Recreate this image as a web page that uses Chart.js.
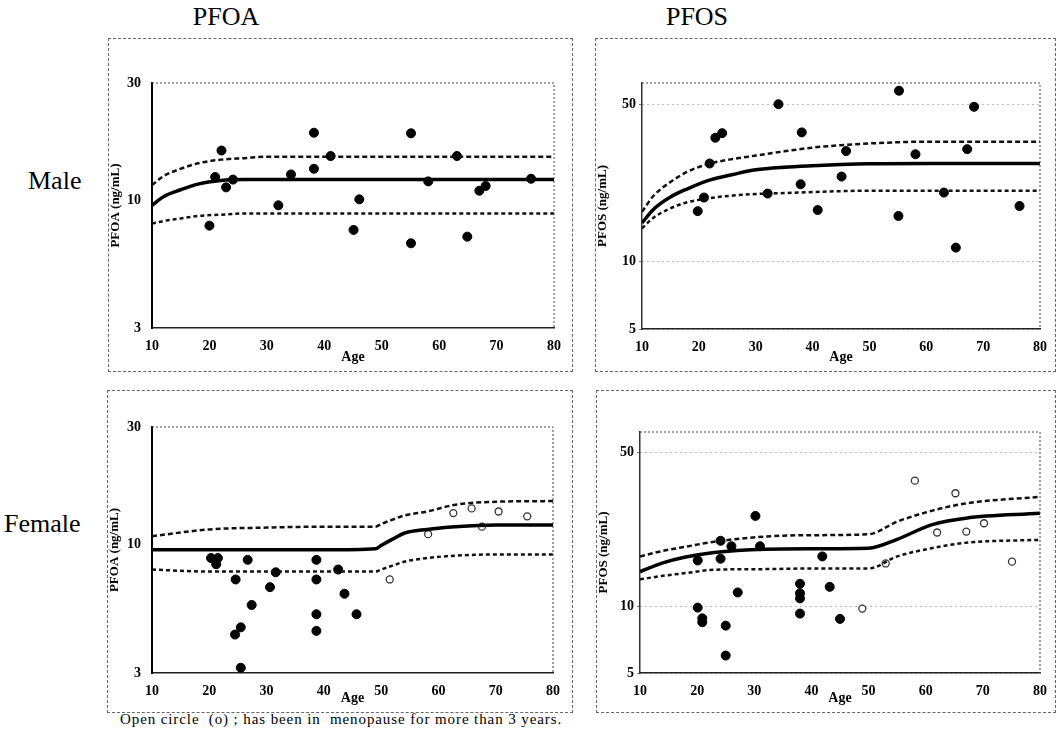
<!DOCTYPE html>
<html>
<head>
<meta charset="utf-8">
<script src="https://cdn.jsdelivr.net/npm/chart.js@4.4.0/dist/chart.umd.min.js"></script>
<style>
body { margin:0; background:#fff; width:1058px; height:738px; position:relative; overflow:hidden; font-family:"Liberation Serif", serif; color:#000; }
.frame { position:absolute; border:1px dashed #666; box-sizing:border-box; }
canvas { position:absolute; }
.lbl { position:absolute; white-space:nowrap; }
</style>
</head>
<body>
<div class="lbl" style="left:176px;top:2px;width:100px;text-align:center;font-size:26px;">PFOA</div>
<div class="lbl" style="left:647px;top:2px;width:100px;text-align:center;font-size:26px;">PFOS</div>
<div class="lbl" style="left:28px;top:166px;font-size:26px;">Male</div>
<div class="lbl" style="left:4px;top:509px;font-size:26px;">Female</div>
<div class="lbl" style="left:120px;top:711px;font-size:15px;letter-spacing:0.9px;">Open circle&nbsp; (o) ; has been in&nbsp; menopause for more than 3 years.</div>

<div class="frame" style="left:108px;top:38px;width:465px;height:334px;"></div>
<div class="frame" style="left:595px;top:38px;width:461px;height:334px;"></div>
<div class="frame" style="left:107px;top:390px;width:466px;height:323px;"></div>
<div class="frame" style="left:596px;top:390px;width:460px;height:323px;"></div>

<canvas id="pfoaMale" width="465" height="334" style="left:108px;top:38px;"></canvas>
<canvas id="pfosMale" width="461" height="334" style="left:595px;top:38px;"></canvas>
<canvas id="pfoaFemale" width="466" height="323" style="left:107px;top:390px;"></canvas>
<canvas id="pfosFemale" width="460" height="323" style="left:596px;top:390px;"></canvas>

<script>
// axis ticks
var ageTicks = [10, 20, 30, 40, 50, 60, 70, 80];
var pfoaTicks = [3, 10, 30];
var pfosTicks = [5, 10, 50];

// PFOA, male
var pfoaMaleAge = [20, 22.1, 21, 22.9, 24.1, 32, 34.2, 38.2, 38.2, 41.1, 45.1, 46.1, 55.1, 55.1, 58.1, 63.1, 64.9, 67, 68.1, 76];
var pfoaMaleVal = [7.85, 15.9, 12.4, 11.25, 12.1, 9.5, 12.7, 18.8, 13.4, 15.1, 7.54, 10.05, 18.7, 6.65, 11.9, 15.1, 7.08, 10.9, 11.4, 12.2];
var pfoaMaleFitAge = [10, 12, 15, 18, 22, 26, 30, 40, 50, 60, 70, 80];
var pfoaMaleFit = [9.5, 10.3, 11.0, 11.6, 12.0, 12.1, 12.1, 12.1, 12.1, 12.1, 12.1, 12.1];
var pfoaMaleUpper = [11.5, 12.5, 13.4, 14.1, 14.6, 14.8, 15.0, 15.0, 15.0, 15.0, 15.0, 15.0];
var pfoaMaleLower = [8.0, 8.2, 8.4, 8.6, 8.7, 8.8, 8.8, 8.8, 8.8, 8.8, 8.8, 8.8];

// PFOS, male
var pfosMaleAge = [19.8, 20.9, 21.9, 22.9, 24.1, 32.1, 34, 37.9, 38.1, 40.9, 45.1, 45.9, 55.2, 55.1, 58.1, 63.1, 65.2, 67.2, 68.4, 76.4];
var pfosMaleVal = [16.7, 19.2, 27.2, 35.4, 37.1, 20.0, 49.9, 22.0, 37.4, 16.9, 23.8, 30.9, 57.3, 15.9, 29.9, 20.2, 11.5, 31.5, 48.6, 17.6];
var pfosMaleFitAge = [10, 12, 15, 18, 22, 26, 30, 35, 40, 45, 50, 60, 80];
var pfosMaleFit = [14.8, 17.0, 19.3, 21.0, 23.0, 24.3, 25.5, 26.2, 26.6, 26.9, 27.1, 27.2, 27.2];
var pfosMaleUpper = [16.6, 19.5, 22.5, 25.0, 27.2, 28.5, 29.5, 30.8, 32.0, 32.8, 33.4, 34.0, 34.0];
var pfosMaleLower = [14.0, 15.6, 17.2, 18.3, 19.1, 19.6, 19.9, 20.1, 20.3, 20.5, 20.6, 20.6, 20.6];

// PFOA, female (filled = before menopause, open = in menopause > 3 years)
var pfoaFemaleAge = [20.3, 21.5, 21.2, 24.6, 25.5, 24.5, 25.5, 26.7, 27.4, 30.6, 31.6, 38.7, 38.7, 38.7, 38.7, 42.5, 43.6, 45.7];
var pfoaFemaleVal = [8.8, 8.8, 8.3, 7.2, 4.6, 4.3, 3.15, 8.65, 5.67, 6.7, 7.7, 8.65, 7.2, 5.2, 4.45, 7.9, 6.3, 5.2];
var pfoaFemaleOpenAge = [51.5, 58.2, 62.6, 65.8, 67.6, 70.5, 75.5];
var pfoaFemaleOpenVal = [7.2, 11.0, 13.4, 14.0, 11.8, 13.6, 13.0];
var pfoaFemaleFitAge = [10, 20, 30, 40, 49, 50, 52, 54, 58, 63, 70, 80];
var pfoaFemaleFit = [9.5, 9.5, 9.5, 9.5, 9.6, 9.9, 10.5, 11.1, 11.5, 11.8, 12.0, 12.0];
var pfoaFemaleUpper = [10.8, 11.5, 11.7, 11.8, 11.8, 12.1, 12.6, 13.1, 13.6, 14.5, 14.9, 15.0];
var pfoaFemaleLower = [7.9, 7.75, 7.75, 7.75, 7.75, 7.9, 8.2, 8.5, 8.8, 9.0, 9.1, 9.1];

// PFOS, female
var pfosFemaleAge = [20.1, 20.1, 20.9, 20.9, 24.1, 24.1, 25, 25, 26, 27.1, 30.2, 31, 38, 38, 38, 38, 41.9, 43.2, 45];
var pfosFemaleVal = [16.2, 9.9, 8.85, 8.5, 19.9, 16.5, 8.2, 6.0, 18.8, 11.6, 25.8, 18.8, 12.7, 11.5, 10.9, 9.3, 16.9, 12.3, 8.8];
var pfosFemaleOpenAge = [48.9, 53, 58.1, 62, 65.2, 67.1, 70.2, 75.1];
var pfosFemaleOpenVal = [9.8, 15.7, 37.3, 21.7, 32.7, 21.9, 23.9, 16.0];
var pfosFemaleFitAge = [10, 14, 18, 23, 32, 40, 50, 55, 61, 67, 80];
var pfosFemaleFit = [14.4, 15.8, 16.8, 17.6, 18.2, 18.3, 18.4, 20.2, 23.5, 25.2, 26.5];
var pfosFemaleUpper = [16.9, 17.9, 18.7, 19.7, 20.8, 21.1, 21.3, 24.3, 27.2, 29.4, 31.5];
var pfosFemaleLower = [13.3, 13.8, 14.2, 14.7, 14.8, 14.9, 14.9, 16.9, 18.4, 19.5, 20.1];

function pairs(xs, ys) {
    return xs.map(function (x, i) { return { x: x, y: ys[i] }; });
}

// dotted top and right edge of the plot area
var frameLines = {
    id: 'frameLines',
    afterDraw: function (chart) {
        var a = chart.chartArea, c = chart.ctx;
        c.save();
        c.strokeStyle = '#444';
        c.lineWidth = 1;
        c.setLineDash([2, 2]);
        c.beginPath();
        c.moveTo(a.left, a.top);
        c.lineTo(a.right, a.top);
        c.lineTo(a.right, a.bottom);
        c.stroke();
        c.restore();
    }
};

function makeChart(id, o) {
    var datasets = [
        { type: 'line', data: pairs(o.fitAge, o.fit), borderColor: '#000', borderWidth: 3.5, pointRadius: 0, cubicInterpolationMode: 'monotone' },
        { type: 'line', data: pairs(o.fitAge, o.upper), borderColor: '#111', borderWidth: 2.5, borderDash: [5, 3], pointRadius: 0, cubicInterpolationMode: 'monotone' },
        { type: 'line', data: pairs(o.fitAge, o.lower), borderColor: '#111', borderWidth: 2.5, borderDash: [4, 3], pointRadius: 0, cubicInterpolationMode: 'monotone' },
        { type: 'scatter', data: pairs(o.age, o.val), backgroundColor: '#000', borderColor: '#000', pointRadius: 4.5 }
    ];
    if (o.openAge) {
        datasets.push({ type: 'scatter', data: pairs(o.openAge, o.openVal), backgroundColor: '#fff', borderColor: '#333', borderWidth: 1.3, pointRadius: 3.5 });
    }
    return new Chart(document.getElementById(id), {
        type: 'scatter',
        data: { datasets: datasets },
        plugins: [frameLines],
        options: {
            responsive: false,
            animation: false,
            layout: { padding: { top: o.padTop, right: o.padRight, bottom: 6, left: 0 } },
            plugins: { legend: { display: false }, tooltip: { enabled: false } },
            scales: {
                x: {
                    type: 'linear', min: 10, max: 80,
                    afterBuildTicks: function (s) { s.ticks = ageTicks.map(function (v) { return { value: v }; }); },
                    afterFit: function (s) { s.height = o.xHeight; },
                    grid: { display: false },
                    border: { display: true, color: '#222', width: 1.5 },
                    ticks: { color: '#000', padding: 2, font: { family: 'Liberation Serif', size: 14, weight: 'bold' } },
                    title: { display: true, text: 'Age', color: '#000', padding: 0, font: { family: 'Liberation Serif', size: 14, weight: 'bold' } }
                },
                y: {
                    type: 'logarithmic', min: o.yMin, max: o.yMax,
                    afterBuildTicks: function (s) { s.ticks = o.yTicks.map(function (v) { return { value: v }; }); },
                    afterFit: function (s) { s.width = o.yWidth; },
                    grid: o.grid ? { color: '#777', lineWidth: 1, tickLength: 3 } : { display: false },
                    border: o.grid ? { display: true, color: '#333', width: 1.5, dash: [1, 4] } : { display: true, color: '#000', width: 2 },
                    ticks: { color: '#000', padding: 3, callback: function (v) { return v; }, font: { family: 'Liberation Serif', size: 14, weight: 'bold' } },
                    title: { display: true, text: o.yTitle, color: '#000', padding: 0, font: { family: 'Liberation Serif', size: 13, weight: 'bold' } }
                }
            }
        }
    });
}

makeChart('pfoaMale', {
    age: pfoaMaleAge, val: pfoaMaleVal, fitAge: pfoaMaleFitAge, fit: pfoaMaleFit, upper: pfoaMaleUpper, lower: pfoaMaleLower,
    yMin: 3, yMax: 30, yTicks: pfoaTicks, yTitle: 'PFOA (ng/mL)',
    padTop: 45, padRight: 19, yWidth: 44, xHeight: 38, grid: false
});
makeChart('pfosMale', {
    age: pfosMaleAge, val: pfosMaleVal, fitAge: pfosMaleFitAge, fit: pfosMaleFit, upper: pfosMaleUpper, lower: pfosMaleLower,
    yMin: 5, yMax: 62, yTicks: pfosTicks, yTitle: 'PFOS (ng/mL)',
    padTop: 45, padRight: 16, yWidth: 47, xHeight: 37, grid: true
});
makeChart('pfoaFemale', {
    age: pfoaFemaleAge, val: pfoaFemaleVal, openAge: pfoaFemaleOpenAge, openVal: pfoaFemaleOpenVal,
    fitAge: pfoaFemaleFitAge, fit: pfoaFemaleFit, upper: pfoaFemaleUpper, lower: pfoaFemaleLower,
    yMin: 3, yMax: 30, yTicks: pfoaTicks, yTitle: 'PFOA (ng/mL)',
    padTop: 37, padRight: 20, yWidth: 45, xHeight: 34, grid: false
});
makeChart('pfosFemale', {
    age: pfosFemaleAge, val: pfosFemaleVal, openAge: pfosFemaleOpenAge, openVal: pfosFemaleOpenVal,
    fitAge: pfosFemaleFitAge, fit: pfosFemaleFit, upper: pfosFemaleUpper, lower: pfosFemaleLower,
    yMin: 5, yMax: 62, yTicks: pfosTicks, yTitle: 'PFOS (ng/mL)',
    padTop: 42, padRight: 16, yWidth: 44, xHeight: 34, grid: true
});
</script>
</body>
</html>
